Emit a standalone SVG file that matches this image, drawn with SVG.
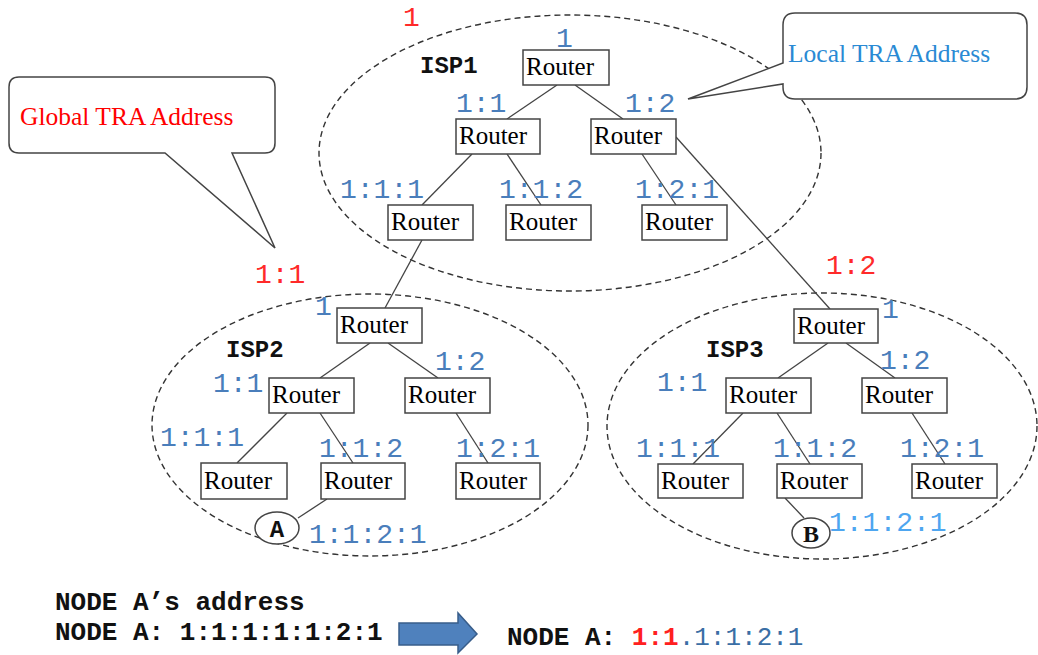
<svg xmlns="http://www.w3.org/2000/svg" width="1038" height="655" viewBox="0 0 1038 655">
<style>
.isp{fill:none;stroke:#333;stroke-width:1.4;stroke-dasharray:6 4}
.box{fill:#fff;stroke:#444;stroke-width:1.5}
.rt{font-family:"Liberation Serif","Times New Roman",serif;font-size:25px;fill:#000}
.lb{font-family:"Liberation Mono","Courier New",monospace;font-size:28px;fill:#4a7ebb}
.red{font-family:"Liberation Mono","Courier New",monospace;font-size:28px;fill:#ff2a2a}
.nm{font-family:"Liberation Mono","Courier New",monospace;font-size:24px;font-weight:bold;fill:#111}
.ln{stroke:#444;stroke-width:1.3;fill:none}
.call{fill:#fff;stroke:#444;stroke-width:1.5}
.bt{font-family:"Liberation Mono","Courier New",monospace;font-size:26px;font-weight:bold;fill:#111}
</style>
<g id="isp-areas">
<ellipse class="isp" cx="570" cy="153" rx="251" ry="138"/>
<ellipse class="isp" cx="370" cy="425" rx="218" ry="131"/>
<ellipse class="isp" cx="822" cy="426" rx="215" ry="133"/>
</g>
<g id="connectors">
<line class="ln" x1="557" y1="85" x2="507" y2="119"/>
<line class="ln" x1="575" y1="85" x2="623" y2="119"/>
<line class="ln" x1="472" y1="154" x2="422" y2="205"/>
<line class="ln" x1="507" y1="154" x2="541" y2="205"/>
<line class="ln" x1="642" y1="154" x2="676" y2="205"/>
<line class="ln" x1="676" y1="137" x2="830" y2="309"/>
<line class="ln" x1="422" y1="240" x2="385" y2="308"/>
<line class="ln" x1="370" y1="343" x2="320" y2="378"/>
<line class="ln" x1="388" y1="343" x2="438" y2="378"/>
<line class="ln" x1="287" y1="413" x2="237" y2="463"/>
<line class="ln" x1="320" y1="413" x2="353" y2="463"/>
<line class="ln" x1="456" y1="413" x2="488" y2="463"/>
<line class="ln" x1="327" y1="499" x2="298" y2="518"/>
<line class="ln" x1="828" y1="343" x2="778" y2="378"/>
<line class="ln" x1="846" y1="343" x2="895" y2="378"/>
<line class="ln" x1="743" y1="413" x2="693" y2="464"/>
<line class="ln" x1="777" y1="413" x2="810" y2="464"/>
<line class="ln" x1="912" y1="413" x2="945" y2="464"/>
<line class="ln" x1="785" y1="498" x2="804" y2="518"/>
</g>
<g id="isp1">
<text class="nm" x="420" y="73">ISP1</text>
<text class="red" x="403" y="26">1</text>
<g id="isp1-r1"><rect class="box" x="523" y="50" width="86" height="35"/><text class="rt" x="526" y="75">Router</text><text class="lb" x="556" y="47">1</text></g>
<g id="isp1-r11"><rect class="box" x="456" y="119" width="84" height="35"/><text class="rt" x="459" y="144">Router</text><text class="lb" x="456" y="112">1:1</text></g>
<g id="isp1-r12"><rect class="box" x="591" y="119" width="85" height="35"/><text class="rt" x="594" y="144">Router</text><text class="lb" x="625" y="112">1:2</text></g>
<g id="isp1-r111"><rect class="box" x="388" y="205" width="85" height="35"/><text class="rt" x="391" y="230">Router</text><text class="lb" x="340" y="198">1:1:1</text></g>
<g id="isp1-r112"><rect class="box" x="506" y="205" width="85" height="35"/><text class="rt" x="509" y="230">Router</text><text class="lb" x="499" y="198">1:1:2</text></g>
<g id="isp1-r121"><rect class="box" x="642" y="205" width="85" height="35"/><text class="rt" x="645" y="230">Router</text><text class="lb" x="635" y="198">1:2:1</text></g>
</g>
<g id="isp2">
<text class="nm" x="226" y="357">ISP2</text>
<text class="red" x="255" y="283">1:1</text>
<g id="isp2-r1"><rect class="box" x="337" y="308" width="85" height="35"/><text class="rt" x="340" y="333">Router</text><text class="lb" x="315" y="315">1</text></g>
<g id="isp2-r11"><rect class="box" x="269" y="378" width="85" height="35"/><text class="rt" x="272" y="403">Router</text><text class="lb" x="213" y="392">1:1</text></g>
<g id="isp2-r12"><rect class="box" x="405" y="378" width="85" height="35"/><text class="rt" x="408" y="403">Router</text><text class="lb" x="435" y="370">1:2</text></g>
<g id="isp2-r111"><rect class="box" x="201" y="463" width="86" height="36"/><text class="rt" x="204" y="489">Router</text><text class="lb" x="160" y="446">1:1:1</text></g>
<g id="isp2-r112"><rect class="box" x="321" y="463" width="84" height="36"/><text class="rt" x="324" y="489">Router</text><text class="lb" x="319" y="457">1:1:2</text></g>
<g id="isp2-r121"><rect class="box" x="456" y="463" width="84" height="36"/><text class="rt" x="459" y="489">Router</text><text class="lb" x="456" y="457">1:2:1</text></g>
<g id="node-a"><ellipse class="box" cx="277" cy="528" rx="22" ry="16"/><text x="277" y="537" text-anchor="middle" font-family="Liberation Mono, Courier New, monospace" font-size="24" font-weight="bold" fill="#111">A</text><text class="lb" x="309" y="543">1:1:2:1</text></g>
</g>
<g id="isp3">
<text class="nm" x="706" y="357">ISP3</text>
<text class="red" x="826" y="274">1:2</text>
<g id="isp3-r1"><rect class="box" x="794" y="309" width="84" height="34"/><text class="rt" x="797" y="334">Router</text><text class="lb" x="882" y="318">1</text></g>
<g id="isp3-r11"><rect class="box" x="726" y="378" width="85" height="35"/><text class="rt" x="729" y="403">Router</text><text class="lb" x="657" y="391">1:1</text></g>
<g id="isp3-r12"><rect class="box" x="862" y="378" width="85" height="35"/><text class="rt" x="865" y="403">Router</text><text class="lb" x="880" y="369">1:2</text></g>
<g id="isp3-r111"><rect class="box" x="658" y="464" width="85" height="34"/><text class="rt" x="661" y="489">Router</text><text class="lb" x="636" y="457">1:1:1</text></g>
<g id="isp3-r112"><rect class="box" x="777" y="464" width="85" height="34"/><text class="rt" x="780" y="489">Router</text><text class="lb" x="773" y="457">1:1:2</text></g>
<g id="isp3-r121"><rect class="box" x="912" y="464" width="85" height="34"/><text class="rt" x="915" y="489">Router</text><text class="lb" x="900" y="457">1:2:1</text></g>
<g id="node-b"><ellipse class="box" cx="811" cy="533" rx="19" ry="15"/><text x="811" y="542" text-anchor="middle" font-family="Liberation Serif, Times New Roman, serif" font-size="24" font-weight="bold" fill="#111">B</text><text x="829" y="531" font-family="Liberation Mono, Courier New, monospace" font-size="28" fill="#4ea6f0">1:1:2:1</text></g>
</g>
<g id="callout-global">
<path class="call" d="M19,77 H265 Q275,77 275,87 V143 Q275,153 265,153 H232 L275,248 L165,153 H19 Q9,153 9,143 V87 Q9,77 19,77 Z"/>
<text x="20" y="125" font-family="Liberation Serif, Times New Roman, serif" font-size="25.5" fill="#ff0000">Global TRA Address</text>
</g>
<g id="callout-local">
<path class="call" d="M795,13 H1015 Q1027,13 1027,25 V87 Q1027,99 1015,99 H795 Q783,99 783,87 V84 L688,99 L783,63 V25 Q783,13 795,13 Z"/>
<text x="788" y="62" font-family="Liberation Serif, Times New Roman, serif" font-size="25.5" fill="#2a8ad4">Local TRA Address</text>
</g>
<g id="summary">
<text class="bt" x="55" y="610">NODE A’s address</text>
<text class="bt" x="55" y="640">NODE A: 1:1:1:1:1:2:1</text>
<polygon points="399,623 458,623 458,613 477,634 458,653 458,645 399,645" fill="#4f81bd" stroke="#385d8a" stroke-width="1.5"/>
<text class="bt" x="507" y="645">NODE A: <tspan fill="#ff2020">1:1</tspan><tspan fill="#3a6ea5" font-weight="normal">.1:1:2:1</tspan></text>
</g>
</svg>
